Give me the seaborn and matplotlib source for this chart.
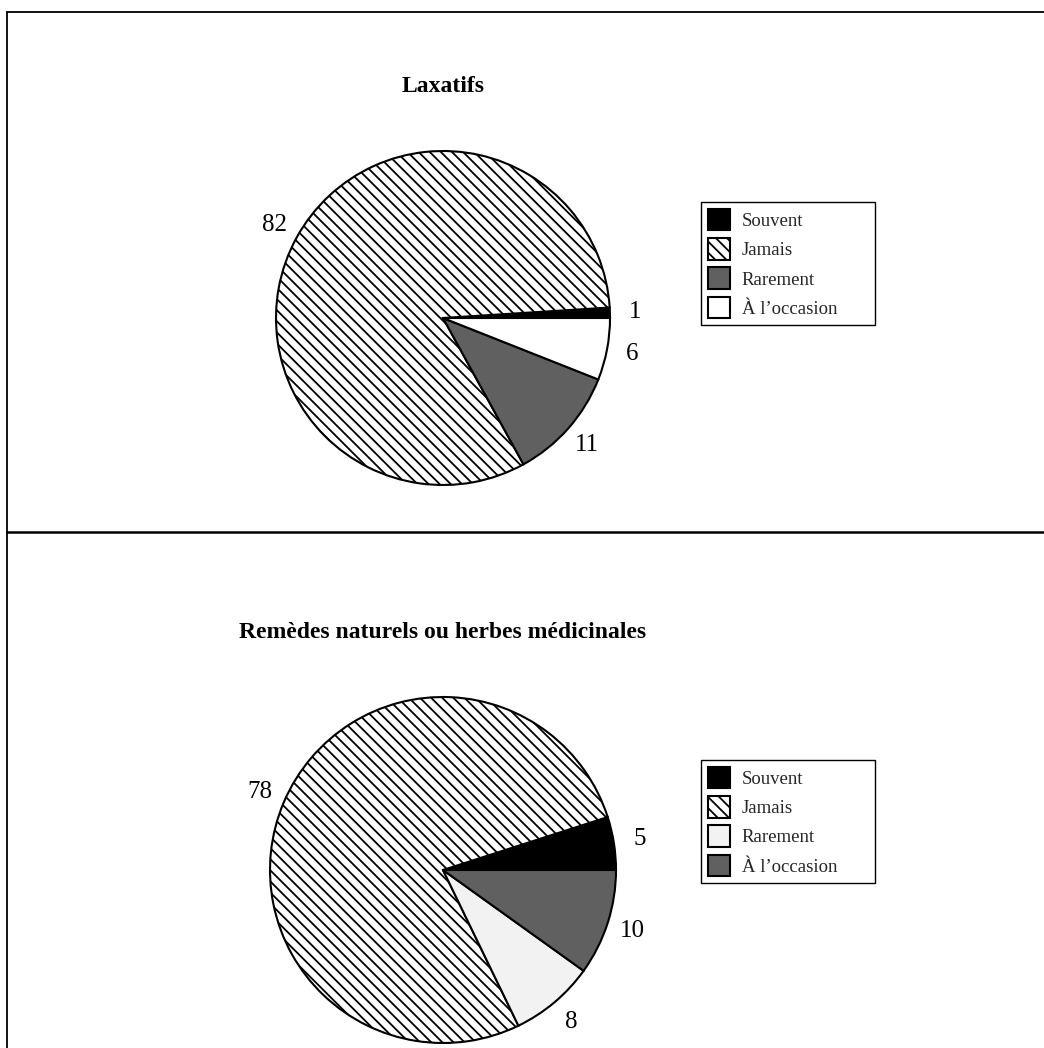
import matplotlib
matplotlib.use("Agg")
import matplotlib.pyplot as plt
import seaborn as sns
from matplotlib.lines import Line2D

sns.set_theme(style="white")
plt.rcParams['font.family'] = ['Liberation Serif', 'DejaVu Serif']
plt.rcParams['hatch.linewidth'] = 1.3

# ---- data ----
categories = ['Souvent', 'Jamais', 'Rarement', 'À l’occasion']
title_top = 'Laxatifs'
values_top = [1, 82, 11, 6]
title_bottom = 'Remèdes naturels ou herbes médicinales'
values_bottom = [5, 78, 8, 10]

# ---- styles ----
colors_top = ['black', 'white', '#606060', 'white']
hatches_top = ['', '\\\\\\', '', '']
colors_bottom = ['black', 'white', '#f2f2f2', '#606060']
hatches_bottom = ['', '\\\\\\', '', '']

W, H = 1044, 1048
fig = plt.figure(figsize=(W / 100, H / 100), dpi=100)
fig.patch.set_facecolor('white')


def px_axes(cx, cy, half):
    return fig.add_axes([(cx - half) / W, 1 - (cy + half) / H, 2 * half / W, 2 * half / H])


def draw_panel(values, colors, hatches, title, cx, cy, r, title_y, leg_box):
    half = 260
    ax = px_axes(cx, cy, half)
    wedges, texts = ax.pie(values, labels=[str(v) for v in values], colors=colors,
                           hatch=hatches, startangle=0, counterclock=True,
                           labeldistance=1.15,
                           wedgeprops=dict(edgecolor='black', linewidth=1.5),
                           textprops=dict(fontsize=18, color='black'))
    for t in texts:
        t.set_ha('center')
        t.set_va('center')
    lim = half / r
    ax.set_xlim(-lim, lim)
    ax.set_ylim(-lim, lim)
    ax.set_aspect('equal')
    ax.axis('off')
    fig.text(cx / W, 1 - title_y / H, title, ha='center', va='center',
             fontsize=17, fontweight='bold', color='black')
    x0, y0, x1 = leg_box
    leg = fig.legend(wedges, categories, loc='upper left',
                     bbox_to_anchor=(x0 / W, 1 - y0 / H - 0.2, (x1 - x0) / W, 0.2),
                     bbox_transform=fig.transFigure, mode='expand', borderaxespad=0,
                     fontsize=13.5, handlelength=1.17, handleheight=1.4,
                     labelspacing=0.41, handletextpad=0.65, borderpad=0.36,
                     fancybox=False, framealpha=1, edgecolor='black')
    leg.get_frame().set_linewidth(1.0)
    return ax


draw_panel(values_top, colors_top, hatches_top, title_top, 443, 318, 167, 87, (701, 202, 875))
draw_panel(values_bottom, colors_bottom, hatches_bottom, title_bottom, 443, 870, 173, 633, (701, 760, 875))

# panel borders
lw = 1.3
fig.add_artist(Line2D([7 / W, 1], [1 - 12 / H, 1 - 12 / H], transform=fig.transFigure, color='black', lw=lw))
fig.add_artist(Line2D([7 / W, 7 / W], [1 - 12 / H, 0], transform=fig.transFigure, color='black', lw=lw))
fig.add_artist(Line2D([7 / W, 1], [1 - 532 / H, 1 - 532 / H], transform=fig.transFigure, color='black', lw=1.8))

fig.savefig('out.png', dpi=100, facecolor='white')
